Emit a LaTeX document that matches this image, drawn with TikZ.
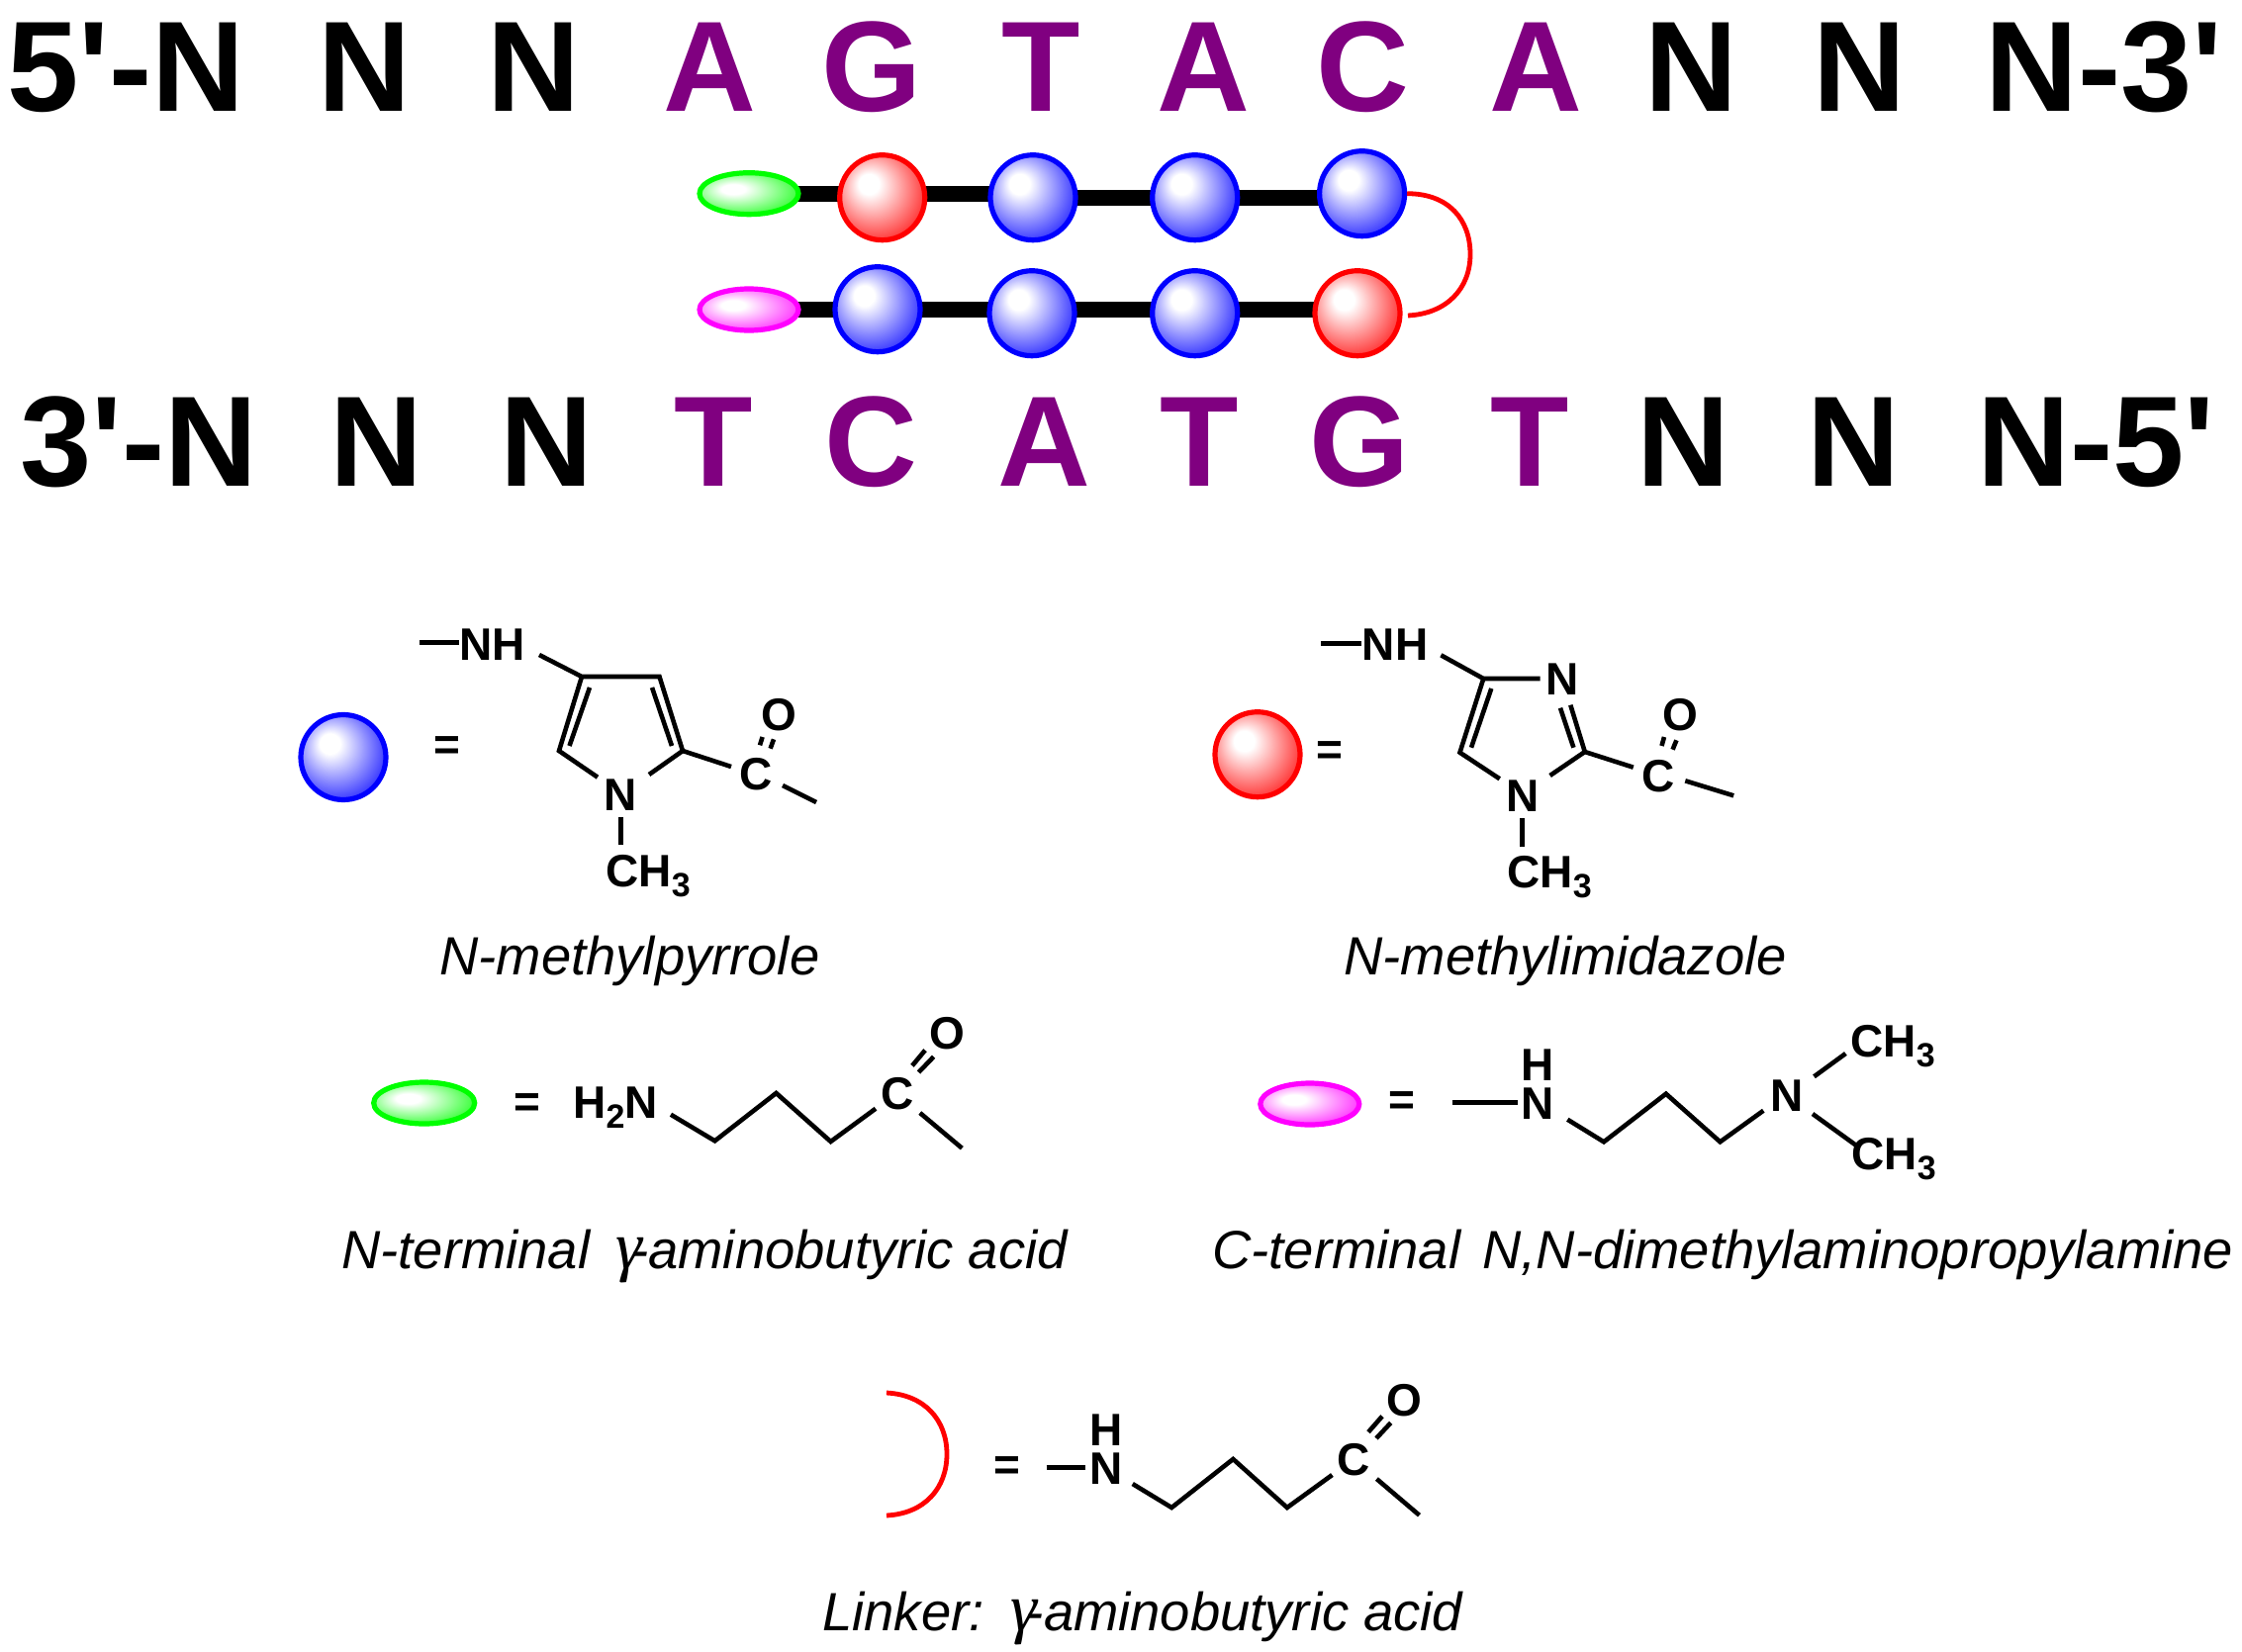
\documentclass[tikz,border=0pt]{standalone}
\usepackage{fontspec}
\setmainfont[Ligatures=TeXOff]{Liberation Sans}
\newfontfamily\gammafont{Liberation Serif}
\usetikzlibrary{shapes.geometric,backgrounds}
\definecolor{seqpurple}{HTML}{800080}
\definecolor{capmag}{RGB}{255,0,255}
\definecolor{capgreen}{RGB}{0,255,0}
\pgfdeclareradialshading{beadblue}{\pgfpoint{-9bp}{9bp}}{color(0bp)=(white);color(6bp)=(white);color(36bp)=(blue);color(50bp)=(blue)}
\pgfdeclareradialshading{beadred}{\pgfpoint{-9bp}{9bp}}{color(0bp)=(white);color(6bp)=(white);color(36bp)=(red);color(50bp)=(red)}
\pgfdeclareradialshading{beadgreen}{\pgfpoint{-9bp}{6bp}}{color(0bp)=(white);color(6bp)=(white);color(36bp)=(capgreen);color(50bp)=(capgreen)}
\pgfdeclareradialshading{beadmag}{\pgfpoint{-9bp}{6bp}}{color(0bp)=(white);color(6bp)=(white);color(36bp)=(capmag);color(50bp)=(capmag)}
\newcommand\subnum[1]{\raisebox{-5pt}{\fontsize{17}{17}\selectfont #1}}
\newcommand\biggamma{\makebox[7.5pt][l]{\fontsize{34}{34}\selectfont\gammafont γ}}
\tikzset{
  x=0.5pt,y=-0.5pt,
  seq/.style={inner sep=0pt,anchor=base,font=\fontsize{65}{70}\selectfont\bfseries},
  seqend/.style={seq,anchor=base west},
  nt/.style={seq,text=seqpurple},
  bead/.style={circle,inner sep=0pt,minimum size=43pt,line width=2.6pt},
  bluebead/.style={bead,draw=blue,shading=beadblue},
  redbead/.style={bead,draw=red,shading=beadred},
  capshape/.style={ellipse,inner sep=0pt,minimum width=50pt,minimum height=21pt,line width=2.6pt},
  greencap/.style={capshape,draw=capgreen,shading=beadgreen},
  magcap/.style={capshape,draw=capmag,shading=beadmag},
  rod/.style={line width=8pt,black},
  loopline/.style={line width=2.4pt,red},
  bond/.style={line width=2.3pt,black,line join=miter},
  atomc/.style={inner sep=0pt,anchor=base,font=\fontsize{23}{27}\selectfont\bfseries},
  atoml/.style={atomc,anchor=base west},
  eqsign/.style={inner sep=0pt,anchor=center,yshift=-2.75pt,font=\fontsize{23}{27}\selectfont\bfseries},
  captiontext/.style={inner sep=0pt,anchor=base west,font=\fontsize{27.2}{30}\selectfont\itshape},
}
\begin{document}
\begin{tikzpicture}
\useasboundingbox (0,0) rectangle (2266,1670);
% sequences
\node[seqend] (t1) at (7,112.7) {5'-N};
\node[seq] (t2) at (368.5,112.7) {N};
\node[seq] (t3) at (539,112.7) {N};
\node[nt] (t4) at (717.5,112.7) {A};
\node[nt] (t5) at (881.5,112.7) {G};
\node[nt] (t6) at (1052,112.7) {T};
\node[nt] (t7) at (1216.8,112.7) {A};
\node[nt] (t8) at (1377,112.7) {C};
\node[nt] (t9) at (1552,112.7) {A};
\node[seq] (t10) at (1709.6,112.7) {N};
\node[seq] (t11) at (1879.4,112.7) {N};
\node[seqend] (t12) at (2006,112.7) {N-3'};
\node[seqend] (b1) at (20,491.7) {3'-N};
\node[seq] (b2) at (380.8,491.7) {N};
\node[seq] (b3) at (552,491.7) {N};
\node[nt] (b4) at (721,491.7) {T};
\node[nt] (b5) at (880,491.7) {C};
\node[nt] (b6) at (1055,491.7) {A};
\node[nt] (b7) at (1212.5,491.7) {T};
\node[nt] (b8) at (1373.6,491.7) {G};
\node[nt] (b9) at (1546,491.7) {T};
\node[seq] (b10) at (1701.6,491.7) {N};
\node[seq] (b11) at (1873,491.7) {N};
\node[seqend] (b12) at (1998,491.7) {N-5'};
% polyamide hairpin
\node[greencap] (gc) at (757,195.7) {};
\node[redbead] (u1) at (891.7,199.7) {};
\node[bluebead] (u2) at (1044,199.7) {};
\node[bluebead] (u3) at (1207.7,199.7) {};
\node[bluebead] (u4) at (1376.6,195.7) {};
\node[magcap] (mc) at (757,313) {};
\node[bluebead] (l1) at (887,312.7) {};
\node[bluebead] (l2) at (1043,316.7) {};
\node[bluebead] (l3) at (1207.7,316.7) {};
\node[redbead] (l4) at (1372,316.7) {};
\coordinate (loopend) at (1423,319);
\begin{pgfonlayer}{background}
\draw[rod] (gc.center) -- (gc.center -| u2.center);
\draw[rod] (u2.center) -- (u2.center -| u4.center);
\draw[rod] (mc.center) -- (mc.center -| l4.center);
\end{pgfonlayer}
\draw[loopline] (u4.east) .. controls +(42,0) and (1486,222) .. (1486,257) .. controls (1486,292) and (1462,317) .. (loopend);
% N-methylpyrrole
\node[bluebead] (kb) at (347,765.5) {};
\node[eqsign] (e1) at (452,750.7) {=};
\node[atomc] (nh1) at (497.5,667) {NH};
\node[atomc] (n1) at (627.5,819.5) {N};
\node[atoml] (me1) at (612,896) {CH\subnum{3}};
\node[atomc] (c1) at (764,798) {C};
\node[atomc] (o1) at (787,738) {O};
\draw[bond] (424,649.3) -- (nh1.west |- 0,649.3);
\draw[bond] (545,662) -- (588,684) -- (666.5,684) -- (690,759) -- (656,783);
\draw[bond] (588,684) -- (565,759) -- (604,785.7);
\draw[bond] (596,695) -- (575.5,754);
\draw[bond] (659,695) -- (679,754);
\draw[bond] (n1.south |- 0,826) -- (n1.south |- 0,854);
\draw[bond] (690,759) -- (739,775);
\draw[bond] (770.6,745) -- (768,753.3);
\draw[bond] (782,747.3) -- (778.6,756.7);
\draw[bond] (791,794) -- (825,811);
\node[captiontext] (cp1) at (444,985) {N-methylpyrrole};
% N-methylimidazole
\node[redbead] (kr) at (1271,762.7) {};
\node[eqsign] (e2) at (1344,756) {=};
\node[atomc] (nh2) at (1410,667.5) {NH};
\node[atomc] (n2a) at (1578.9,702.7) {N};
\node[atomc] (n2) at (1538.7,820) {N};
\node[atoml] (me2) at (1523,897.3) {CH\subnum{3}};
\node[atomc] (c2) at (1676.5,800) {C};
\node[atomc] (o2) at (1698.7,738.7) {O};
\draw[bond] (1335,650.7) -- (nh2.west |- 0,650.7);
\draw[bond] (1456.4,662.3) -- (1499.3,686) -- (1556.7,686);
\draw[bond] (1499.3,686) -- (1475.5,760.7) -- (1515.7,787.3);
\draw[bond] (1507.3,696) -- (1487,755.7);
\draw[bond] (1587.3,712.7) -- (1601.8,760) -- (1566.6,784);
\draw[bond] (1577,715.7) -- (1590.4,755.7);
\draw[bond] (n2.south |- 0,827) -- (n2.south |- 0,855.7);
\draw[bond] (1601.8,760) -- (1650.8,775.7);
\draw[bond] (1682,745) -- (1679.5,754);
\draw[bond] (1694.4,748.3) -- (1690.6,757.7);
\draw[bond] (1703.3,789.3) -- (1752.2,804.3);
\node[captiontext] (cp2) at (1358,985) {N-methylimidazole};
% N-terminal cap
\node[greencap,minimum width=51pt] (kg) at (428.7,1115) {};
\node[eqsign] (e3) at (533,1111.7) {=};
\node[atoml] (h2n) at (579,1130.7) {H\subnum{2}N};
\node[atomc] (c3) at (907,1121.7) {C};
\node[atomc] (o3) at (957,1060) {O};
\draw[bond] (678,1126.7) -- (722.5,1153.3) -- (784.5,1105) -- (839.6,1154) -- (885,1120.7);
\draw[bond] (935,1061.7) -- (922,1077.3);
\draw[bond] (943.6,1068.3) -- (928.5,1084);
\draw[bond] (929.8,1125) -- (972.3,1160.7);
\node[captiontext] (cp3) at (345,1282.5) {N-terminal\hspace{0.2em} \biggamma-aminobutyric acid};
% C-terminal cap
\node[magcap] (km) at (1323.8,1116) {};
\node[eqsign] (e4) at (1417,1110) {=};
\node[atomc] (h4) at (1554.4,1092.7) {H};
\node[atomc] (n4) at (1554.4,1131.7) {N};
\node[atomc] (n4b) at (1805.7,1123.3) {N};
\node[atoml] (m4a) at (1870,1068.3) {CH\subnum{3}};
\node[atoml] (m4b) at (1871,1182.3) {CH\subnum{3}};
\draw[bond] (1467.9,1114.3) -- (1533.5,1114.3);
\draw[bond] (1584.3,1131.7) -- (1621,1154.3) -- (1683.8,1105.7) -- (1738.5,1154.3) -- (1782.3,1122.7);
\draw[bond] (1833.5,1088.3) -- (1865.4,1065);
\draw[bond] (1832,1126) -- (1875.8,1157.7);
\node[captiontext] (cp4) at (1225,1282.5) {C-terminal\hspace{0.13em} N,N-dimethylaminopropylamine};
% Linker
\coordinate (la) at (896,1408);
\coordinate (lb) at (896,1532);
\draw[loopline] (la) .. controls (935,1410) and (957,1436) .. (957,1470) .. controls (957,1504) and (935,1530) .. (lb);
\node[eqsign] (e5) at (1018,1479) {=};
\node[atomc] (h5) at (1117.8,1461.7) {H};
\node[atomc] (n5) at (1117.8,1500) {N};
\node[atomc] (c5) at (1368,1491.7) {C};
\node[atomc] (o5) at (1419.5,1431) {O};
\draw[bond] (1057.7,1483.3) -- (1097,1483.3);
\draw[bond] (1144.7,1500) -- (1184.2,1524) -- (1246.3,1475) -- (1300.9,1524) -- (1346.4,1491);
\draw[bond] (1397,1431.7) -- (1383,1447.7);
\draw[bond] (1405.7,1438.3) -- (1391,1454);
\draw[bond] (1391.4,1495) -- (1434.5,1531.7);
\node[captiontext] (cp5) at (831,1648) {Linker:\hspace{0.13em} \biggamma-aminobutyric acid};
\end{tikzpicture}
\end{document}
